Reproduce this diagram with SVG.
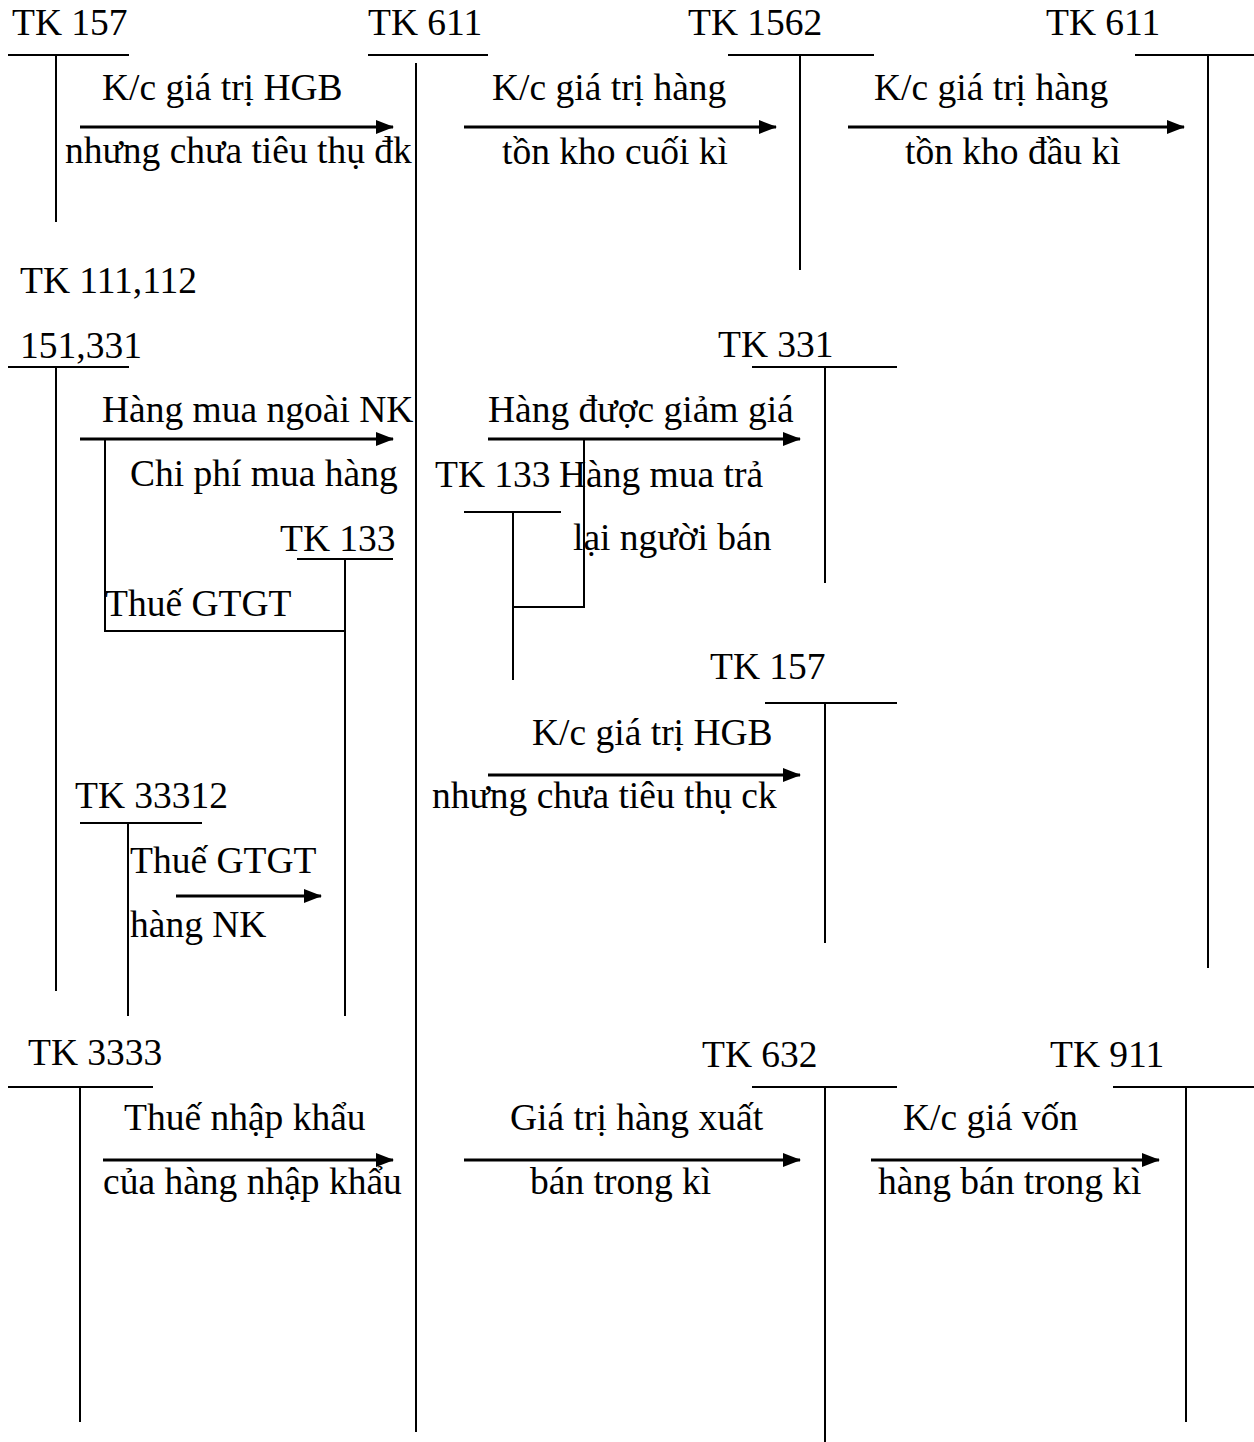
<svg xmlns="http://www.w3.org/2000/svg" width="1254" height="1442" viewBox="0 0 1254 1442">
<style>
text{font-family:"Liberation Serif","Times New Roman",serif;font-size:37.5px;fill:#000}
line,polyline{stroke:#000;stroke-width:2;fill:none}
.arr{stroke-width:3}
</style>
<defs>
<marker id="ah" markerUnits="userSpaceOnUse" markerWidth="18" markerHeight="14" refX="17" refY="7" orient="auto" overflow="visible">
<path d="M0,0 L18,7 L0,14 z" fill="#000"/>
</marker>
</defs>
<rect width="1254" height="1442" fill="#fff"/>
<g id="tk157-top"><text x="12" y="35">TK 157</text><line x1="8" y1="55" x2="129" y2="55"/><line x1="56" y1="55" x2="56" y2="222"/></g>
<g id="tk611-main"><text x="368" y="35">TK 611</text><line x1="368" y1="55" x2="488" y2="55"/><line x1="416" y1="63" x2="416" y2="1432"/></g>
<g id="tk1562"><text x="688" y="35">TK 1562</text><line x1="728" y1="55" x2="874" y2="55"/><line x1="800" y1="55" x2="800" y2="270"/></g>
<g id="tk611-right"><text x="1046" y="35">TK 611</text><line x1="1135" y1="55" x2="1254" y2="55"/><line x1="1208" y1="55" x2="1208" y2="968"/></g>
<g id="tk111"><text x="20" y="293">TK 111,112</text><text x="20" y="358">151,331</text><line x1="8" y1="367" x2="129" y2="367"/><line x1="56" y1="367" x2="56" y2="991"/></g>
<g id="tk133-left"><text x="280" y="551">TK 133</text><line x1="297" y1="559" x2="393" y2="559"/><line x1="345" y1="559" x2="345" y2="1016"/></g>
<g id="tk331"><text x="718" y="357">TK 331</text><line x1="752" y1="367" x2="897" y2="367"/><line x1="825" y1="367" x2="825" y2="583"/></g>
<g id="tk133-mid"><text x="435" y="487">TK 133</text><line x1="464" y1="512" x2="561" y2="512"/><line x1="513" y1="512" x2="513" y2="680"/></g>
<g id="tk157-mid"><text x="710" y="679">TK 157</text><line x1="765" y1="703" x2="897" y2="703"/><line x1="825" y1="703" x2="825" y2="943"/></g>
<g id="tk33312"><text x="75" y="808">TK 33312</text><line x1="80" y1="823" x2="202" y2="823"/><line x1="128" y1="823" x2="128" y2="1016"/></g>
<g id="tk3333"><text x="28" y="1065">TK 3333</text><line x1="8" y1="1087" x2="153" y2="1087"/><line x1="80" y1="1087" x2="80" y2="1422"/></g>
<g id="tk632"><text x="702" y="1067">TK 632</text><line x1="752" y1="1087" x2="897" y2="1087"/><line x1="825" y1="1087" x2="825" y2="1442"/></g>
<g id="tk911"><text x="1050" y="1067">TK 911</text><line x1="1113" y1="1087" x2="1254" y2="1087"/><line x1="1186" y1="1087" x2="1186" y2="1422"/></g>
<g id="connectors">
<line class="arr" x1="80" y1="127" x2="393" y2="127" marker-end="url(#ah)"/>
<line class="arr" x1="464" y1="127" x2="776" y2="127" marker-end="url(#ah)"/>
<line class="arr" x1="848" y1="127" x2="1184" y2="127" marker-end="url(#ah)"/>
<line class="arr" x1="80" y1="439" x2="393" y2="439" marker-end="url(#ah)"/>
<polyline points="105,439 105,631 345,631"/>
<line class="arr" x1="488" y1="439" x2="800" y2="439" marker-end="url(#ah)"/>
<polyline points="584,439 584,607 513,607"/>
<line class="arr" x1="488" y1="775" x2="800" y2="775" marker-end="url(#ah)"/>
<line class="arr" x1="176" y1="896" x2="321" y2="896" marker-end="url(#ah)"/>
<line class="arr" x1="103" y1="1160" x2="393" y2="1160" marker-end="url(#ah)"/>
<line class="arr" x1="464" y1="1160" x2="800" y2="1160" marker-end="url(#ah)"/>
<line class="arr" x1="871" y1="1160" x2="1159" y2="1160" marker-end="url(#ah)"/>
</g>
<g id="labels">
<text x="102" y="100">K/c giá trị HGB</text>
<text x="65" y="163">nhưng chưa tiêu thụ đk</text>
<text x="492" y="100">K/c giá trị hàng</text>
<text x="502" y="164">tồn kho cuối kì</text>
<text x="874" y="100">K/c giá trị hàng</text>
<text x="905" y="164">tồn kho đầu kì</text>
<text x="102" y="422">Hàng mua ngoài NK</text>
<text x="130" y="486">Chi phí mua hàng</text>
<text x="105" y="616">Thuế GTGT</text>
<text x="488" y="422">Hàng được giảm giá</text>
<text x="559" y="487">Hàng mua trả</text>
<text x="573" y="550">lại người bán</text>
<text x="532" y="745">K/c giá trị HGB</text>
<text x="432" y="808">nhưng chưa tiêu thụ ck</text>
<text x="130" y="873">Thuế GTGT</text>
<text x="130" y="937">hàng NK</text>
<text x="124" y="1130">Thuế nhập khẩu</text>
<text x="103" y="1194">của hàng nhập khẩu</text>
<text x="510" y="1130">Giá trị hàng xuất</text>
<text x="530" y="1194">bán trong kì</text>
<text x="903" y="1130">K/c giá vốn</text>
<text x="878" y="1194">hàng bán trong kì</text>
</g>
</svg>
